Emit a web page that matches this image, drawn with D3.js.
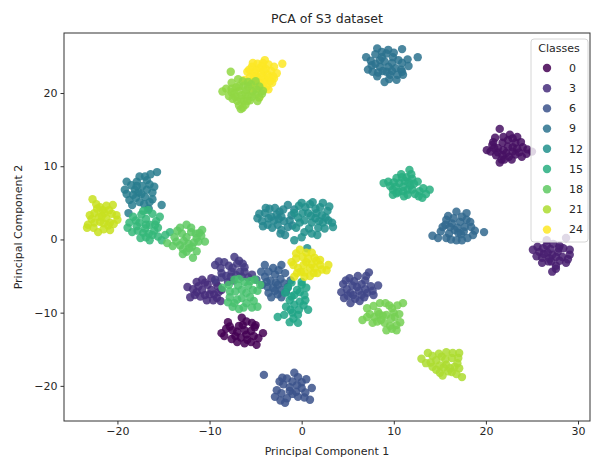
<!DOCTYPE html>
<html>
<head>
<meta charset="utf-8">
<script src="https://cdn.jsdelivr.net/npm/d3@7"></script>
<style>
body { margin: 0; background: #fff; }
text { font-family: "DejaVu Sans", sans-serif; fill: #262626; }
</style>
</head>
<body>
<div id="main"></div>
<script>
var width = 592;
var height = 460;
var plot = {l: 64, r: 590, t: 33, b: 421};

// PCA coordinates, one array per class
var class0 = [[-6.5,-10.7],[-5.4,-11.4],[-8.0,-11.3],[-8.7,-12.8],[-7.5,-12.4],[-6.2,-12.4],[-5.1,-12.0],[-4.2,-12.8],[-7.0,-14.0],[-5.9,-13.7],[-4.9,-14.4],[-6.8,-11.8],[-7.2,-13.2],[-6.0,-13.0],[-5.5,-12.5],[-6.4,-11.7],
    [-7.8,-11.9],[-7.0,-12.6],[-6.6,-13.4],[-5.2,-13.2],[-4.7,-13.5],[-8.2,-12.2],[-6.0,-11.2],[-5.0,-11.7],[-7.6,-13.6],[-6.2,-14.2],[-5.5,-14.0],[-8.4,-13.2]];
var class1 = [[21.5,15.1],[20.1,12.2],[20.7,12.9],[22.6,14.3],[23.4,14.0],[21.8,13.2],[22.9,12.6],[24.0,12.6],[25.0,12.0],[21.5,10.5],[22.8,10.9],[23.9,11.3],[21.1,11.5],[22.2,11.8],[21.3,12.5],[22.4,13.6],[23.2,13.2],[21.9,12.2],[20.5,12.0],[23.6,11.9],[22.5,11.3],[24.4,11.7],[21.9,14.0],[20.8,13.3],[22.0,10.9],
    [21.0,13.9],[22.9,13.8],[23.8,13.3],[24.5,12.3],[21.3,11.9],[22.9,12.0],[22.4,12.7],[23.4,12.4],[21.7,10.9],[23.2,11.6],[21.8,11.5],[20.9,12.5]];
var class2 = [[25.1,-1.4],[26.6,-0.8],[28.0,-0.9],[29.1,-1.4],[26.1,-2.5],[27.2,-2.1],[28.3,-2.4],[28.7,-3.2],[27.2,-4.4],[26.1,-3.2],[29.1,-2.1],[25.8,-1.7],[26.6,-0.1],[28.7,0.2],[27.0,-1.3],[27.8,-1.7],[26.8,-3.0],[27.6,-3.6],[25.6,-1.0],[28.4,-1.2],[27.3,-0.6],
    [26.2,-1.2],[26.7,-1.8],[27.6,-2.4],[28.0,-2.9],[26.3,-2.0],[27.9,-1.2],[28.9,-2.7],[27.1,-3.0],[27.6,-4.0],[25.5,-2.3],[26.9,-2.6]];
var class3 = [[-12.4,-6.5],[-12.1,-7.9],[-10.8,-5.5],[-9.8,-5.3],[-10.8,-6.9],[-9.8,-6.9],[-8.7,-6.9],[-10.3,-8.3],[-9.2,-8.0],[-11.4,-7.2],[-10.2,-6.2],[-9.3,-5.9],[-11.0,-7.8],[-9.5,-7.5],[-8.8,-8.4],[-10.5,-5.9],
    [-11.8,-6.8],[-11.2,-6.4],[-10.0,-7.5],[-9.0,-7.2],[-11.6,-7.6],[-10.5,-7.6],[-9.6,-8.3],[-11.4,-5.8],[-9.1,-6.4]];
var class4 = [[-7.3,-2.4],[-8.4,-3.1],[-9.4,-3.5],[-6.2,-3.8],[-8.7,-4.6],[-7.6,-4.4],[-6.5,-5.1],[-5.4,-4.8],[-9.4,-5.5],[-8.0,-5.8],[-7.0,-3.3],[-7.9,-3.6],[-6.7,-4.4],[-8.2,-5.0],[-7.4,-5.6],[-6.8,-2.9],
    [-8.8,-3.9],[-7.5,-3.9],[-6.2,-4.4],[-5.8,-5.2],[-8.7,-5.2],[-7.1,-4.9],[-7.7,-5.1],[-6.4,-3.3],[-9.0,-3.0]];
var class5 = [[7.3,-4.5],[5.2,-5.3],[6.1,-5.0],[6.9,-5.6],[4.5,-6.1],[5.5,-6.3],[6.5,-6.1],[7.5,-6.4],[8.3,-6.3],[4.3,-7.2],[5.3,-7.3],[6.2,-7.0],[7.1,-7.3],[4.6,-8.0],[5.8,-8.1],[6.8,-7.9],[5.3,-8.7],[7.8,-7.6],
    [5.7,-5.7],[6.9,-6.8],[6.0,-6.5],[4.9,-6.8],[5.6,-7.6],[6.5,-7.6],[7.7,-7.0],[5.0,-7.7],[7.0,-5.0],[6.3,-8.4],[4.8,-5.6]];
var class6 = [[-4.1,-18.5],[-2.1,-18.9],[-0.8,-18.2],[0.5,-19.1],[-2.7,-20.6],[-1.3,-20.2],[0.0,-20.3],[1.1,-20.3],[-2.9,-21.5],[-1.6,-21.7],[-0.4,-21.5],[0.9,-21.9],[-1.8,-22.3],[-1.0,-19.4],[-2.0,-19.8],[-0.6,-20.8],
    [-2.4,-19.4],[-1.6,-19.0],[0.0,-19.5],[-0.5,-19.9],[-2.2,-21.0],[-1.0,-21.1],[0.4,-20.9],[-1.3,-20.7],[-2.3,-22.0],[0.3,-21.6],[-0.4,-18.8]];
var class7 = [[-4.0,-3.5],[-3.1,-3.9],[-4.0,-5.1],[-2.9,-4.8],[-1.8,-4.6],[-3.7,-6.5],[-2.6,-6.2],[-1.5,-6.5],[-3.3,-7.9],[-2.2,-7.9],[-4.9,-5.5],[-3.4,-5.6],[-2.3,-5.4],[-1.2,-5.6],[-2.9,-7.0],[-1.7,-7.2],
    [-3.6,-4.4],[-2.5,-4.2],[-4.4,-4.4],[-3.8,-5.8],[-2.8,-5.9],[-1.9,-6.0],[-4.3,-6.2],[-3.1,-6.6],[-2.3,-6.9],[-2.6,-7.5],[-3.6,-7.3],[-2.2,-3.5]];
var class8 = [[14.2,0.5],[16.8,3.8],[17.9,3.6],[15.7,2.7],[15.3,1.7],[18.4,1.7],[19.8,1.0],[16.6,1.3],[17.7,1.7],[15.7,0.2],[16.8,-0.1],[18.0,0.2],[17.9,2.7],[16.3,2.2],[17.2,2.4],[16.0,0.8],[17.3,0.7],[15.9,3.2],[18.3,2.4],[16.9,1.6],
    [15.1,1.1],[15.6,2.0],[16.5,2.9],[17.4,3.1],[18.8,1.2],[17.6,1.1],[16.2,0.0],[17.4,-0.1],[14.8,0.2],[16.1,1.7],[18.6,0.6],[17.0,0.9]];
var class9 = [[7.0,24.9],[8.2,26.1],[8.7,25.6],[9.2,25.4],[10.9,26.0],[12.6,24.9],[7.2,23.2],[8.5,23.6],[9.8,24.1],[10.8,23.2],[7.7,22.9],[9.2,22.9],[9.0,21.5],[10.3,21.8],[10.9,22.9],[8.5,24.5],[9.9,24.9],[8.0,24.0],[9.4,23.6],[10.2,23.4],[8.8,23.0],[9.6,22.5],[8.2,22.3],[7.6,23.8],[10.5,24.5],[9.0,24.3],[11.0,22.5],
    [8.0,25.3],[9.4,25.9],[10.0,25.5],[11.5,24.6],[7.5,24.4],[10.9,24.1],[8.3,22.8],[9.8,23.0],[9.5,21.9],[11.6,23.7],[8.7,24.9],[10.4,22.5]];
var class10 = [[-15.7,9.2],[-19.0,7.9],[-17.9,7.9],[-16.8,8.1],[-19.2,6.8],[-18.1,6.8],[-16.8,6.8],[-16.2,6.4],[-18.7,5.4],[-17.6,5.1],[-18.4,4.7],[-15.2,4.7],[-18.8,3.6],[-17.3,7.3],[-17.0,5.8],[-18.3,6.1],[-16.5,7.5],[-17.6,8.6],[-16.2,5.5],[-17.7,6.4],
    [-18.5,7.4],[-17.0,8.6],[-16.4,8.9],[-19.0,6.2],[-17.4,6.2],[-16.0,7.2],[-18.0,5.7],[-17.1,4.8],[-16.5,5.1],[-17.9,7.3],[-16.6,4.2]];
var class11 = [[-4.8,2.9],[-4.0,3.6],[-2.9,4.3],[-1.5,4.7],[-3.3,3.1],[-2.2,3.1],[-1.1,3.3],[-3.7,2.0],[-2.6,2.0],[-1.5,1.7],[-1.8,0.6],[-3.5,4.2],[-2.4,3.8],[-4.3,2.5],[-1.9,2.5],[-3.0,2.6],[-0.8,4.1],
    [-4.6,3.5],[-3.9,4.3],[-3.6,2.9],[-2.7,3.4],[-2.0,4.1],[-1.3,2.6],[-3.2,1.6],[-2.2,1.3],[-4.2,1.8],[-2.5,2.8],[-1.0,1.9],[-2.3,0.8]];
var class12 = [[0.0,5.0],[1.2,5.1],[2.3,5.0],[-0.8,3.6],[0.7,3.6],[2.2,3.3],[-0.2,2.3],[1.1,2.3],[2.3,2.3],[3.4,1.7],[0.3,1.0],[1.7,0.6],[-0.8,-0.1],[0.6,-1.2],[1.5,4.2],[0.4,4.4],[1.8,1.6],[0.8,1.5],[-0.4,3.0],[2.8,3.9],[1.5,2.9],[2.9,2.6],
    [-0.3,4.6],[0.9,4.8],[2.0,4.4],[3.0,4.5],[0.1,3.6],[1.6,3.6],[2.6,3.0],[0.3,2.6],[1.9,2.5],[3.3,2.3],[-0.6,1.6],[1.1,0.8],[2.5,1.5],[0.0,0.3],[1.0,3.2]];
var class14 = [[-1.1,-5.9],[0.0,-5.8],[-1.8,-7.3],[-0.5,-6.9],[0.3,-7.6],[-1.3,-8.3],[-0.2,-8.5],[0.7,-9.6],[-2.6,-10.6],[-1.3,-11.3],[-0.4,-11.4],[-1.0,-10.0],[-0.8,-7.6],[0.5,-6.6],[-1.7,-9.2],[-0.3,-9.6],
    [-1.5,-6.6],[-0.2,-7.2],[0.0,-6.2],[-1.1,-7.8],[0.4,-8.3],[-0.8,-8.9],[-1.2,-9.6],[-0.4,-10.3],[-1.9,-10.3],[-0.9,-10.8],[0.2,-9.0]];
var class15 = [[8.9,7.7],[11.7,9.5],[11.4,8.5],[10.3,8.4],[12.6,7.9],[13.9,6.8],[9.9,6.8],[11.0,7.2],[12.0,6.8],[13.1,5.7],[9.9,6.1],[11.5,6.1],[10.6,7.7],[11.2,8.0],[10.5,6.5],[12.3,6.2],[11.8,7.4],[9.6,7.3],[10.8,8.9],[12.8,6.6],[11.1,5.9],[10.2,7.2],[12.0,8.3],
    [9.4,7.9],[10.9,8.5],[11.9,8.9],[12.2,7.6],[13.2,7.0],[10.3,6.3],[11.5,6.8],[12.7,5.9],[11.0,6.6],[10.0,7.8],[13.5,6.2],[11.6,7.8]];
var class16 = [[-16.7,4.0],[-15.4,3.1],[-18.3,3.1],[-18.7,2.3],[-17.6,2.3],[-16.5,2.0],[-15.6,1.6],[-18.4,1.0],[-17.2,0.9],[-16.2,0.6],[-15.2,-0.1],[-16.5,-0.1],[-14.3,1.0],[-17.0,1.5],[-17.9,1.8],[-16.0,1.2],[-17.5,0.2],[-15.8,2.5],[-16.9,2.8],
    [-17.4,3.4],[-16.2,3.5],[-18.0,2.6],[-16.9,2.0],[-15.9,2.0],[-18.9,1.6],[-17.8,1.2],[-16.6,0.8],[-15.6,0.4],[-16.9,0.3],[-14.8,0.6],[-17.2,3.9]];
var class17 = [[-8.6,-6.6],[-7.3,-5.5],[-6.2,-5.8],[-5.1,-5.5],[-7.8,-7.9],[-6.5,-6.9],[-5.3,-6.9],[-7.5,-9.2],[-6.0,-8.7],[-4.8,-9.2],[-6.5,-8.0],[-7.2,-7.1],[-5.6,-7.9],[-8.0,-8.6],[-6.8,-9.5],[-5.8,-6.3],[-4.5,-6.2],
    [-7.9,-6.2],[-6.8,-5.4],[-5.6,-5.7],[-6.9,-6.3],[-6.0,-7.3],[-4.8,-7.0],[-7.8,-7.1],[-7.0,-8.2],[-5.2,-8.4],[-6.3,-9.3],[-5.4,-9.3],[-7.3,-8.7]];
var class18 = [[-12.5,2.0],[-13.2,1.6],[-10.8,1.3],[-13.8,0.3],[-12.5,0.3],[-11.4,0.2],[-10.5,-0.3],[-14.6,-0.5],[-13.2,-0.8],[-11.9,-1.0],[-12.5,-1.7],[-11.8,-2.5],[-12.0,1.0],[-13.0,0.8],[-11.7,-0.4],[-12.8,-0.2],[-14.0,-0.9],[-12.2,-1.2],
    [-12.0,1.6],[-11.5,0.8],[-13.5,1.2],[-12.9,-1.3],[-13.6,-0.3],[-11.2,-0.3],[-11.1,0.9],[-12.3,-0.6],[-11.4,-1.6],[-12.9,-2.0],[-10.9,0.5]];
var class19 = [[7.1,-9.4],[8.5,-8.7],[9.8,-9.4],[11.0,-8.7],[6.6,-11.0],[7.9,-10.6],[9.2,-10.3],[10.1,-10.6],[7.7,-11.4],[9.0,-11.4],[10.3,-11.7],[9.2,-12.4],[10.3,-12.4],[8.3,-9.9],[9.5,-9.0],[8.6,-11.0],[10.0,-10.0],[7.4,-10.2],
    [7.8,-9.1],[9.1,-8.7],[10.4,-9.0],[7.1,-10.6],[8.8,-10.4],[9.7,-10.8],[8.2,-11.2],[9.6,-11.8],[10.6,-10.2],[8.4,-10.2],[9.8,-12.2],[10.7,-11.3]];
var class20 = [[-7.7,22.9],[-6.9,21.9],[-5.0,21.6],[-4.6,20.9],[-5.5,21.2],[-6.3,21.0],[-7.1,20.8],[-8.2,20.6],[-8.6,20.2],[-7.6,20.1],[-6.8,20.3],[-6.0,20.4],[-5.3,20.2],[-7.9,19.6],[-7.2,19.5],[-6.5,19.7],[-5.8,19.6],[-5.0,19.8],[-4.3,19.9],[-7.0,18.9],[-6.3,18.9],[-5.6,19.0],[-6.8,18.3],[-6.1,18.4],[-6.6,17.8],[-4.2,20.3],[-4.8,18.9],
    [-6.4,21.6],[-5.8,21.5],[-7.6,21.4],[-6.8,20.9],[-5.8,20.9],[-7.6,20.6],[-4.9,20.5],[-7.3,19.9],[-6.1,19.9],[-5.4,19.5],[-6.6,19.2],[-7.5,19.2],[-5.9,18.9],[-6.4,18.0],[-4.6,19.4]];
var class21 = [[13.0,-16.3],[13.7,-15.5],[15.7,-15.4],[17.1,-15.5],[14.6,-16.5],[16.3,-16.2],[14.2,-17.4],[15.7,-17.1],[16.9,-16.9],[15.0,-18.2],[16.3,-18.1],[17.4,-18.8],[15.2,-16.0],[14.6,-17.8],[15.9,-18.0],[16.6,-17.4],[15.4,-17.5],
    [14.2,-15.9],[14.9,-15.6],[16.4,-15.5],[15.6,-16.4],[17.0,-16.2],[14.0,-16.8],[15.0,-17.2],[16.1,-17.6],[17.1,-17.6],[15.3,-18.6],[16.8,-18.4],[13.5,-16.9]];
var class22 = [[-22.7,5.5],[-21.9,4.4],[-20.5,4.7],[-22.5,3.6],[-21.4,3.6],[-20.1,3.3],[-23.2,2.0],[-21.9,2.4],[-20.8,2.3],[-20.0,2.7],[-23.3,1.6],[-22.1,1.0],[-20.8,1.3],[-22.0,3.1],[-21.2,2.9],[-22.8,2.8],[-21.6,4.0],[-21.0,1.9],
    [-22.3,4.8],[-21.2,4.6],[-20.9,4.0],[-22.2,4.2],[-23.0,3.3],[-22.5,2.3],[-21.5,2.2],[-20.4,2.1],[-21.5,1.4],[-22.6,1.6],[-20.6,3.5],[-21.7,3.2]];
var class23 = [[-0.2,-1.4],[-1.1,-3.1],[0.1,-2.4],[1.4,-2.5],[2.7,-4.2],[-0.4,-3.9],[0.9,-3.9],[0.3,-5.1],[1.7,-4.6],[-0.8,-5.1],[0.5,-3.1],[1.1,-3.4],[-0.1,-4.4],[2.0,-3.5],[0.9,-5.0],[1.6,-2.9],[-0.6,-2.6],
    [0.5,-1.8],[-0.6,-1.9],[0.7,-2.6],[2.0,-2.8],[2.2,-4.1],[-0.9,-3.5],[0.2,-3.5],[1.4,-3.9],[1.3,-4.6],[-0.5,-4.6],[0.3,-4.5],[2.9,-3.5],[1.1,-1.8]];
var class24 = [[-4.8,24.0],[-4.2,24.1],[-3.6,23.9],[-5.4,23.6],[-4.6,23.4],[-3.9,23.3],[-3.3,23.0],[-5.9,22.9],[-5.1,22.8],[-4.4,22.7],[-3.7,22.5],[-3.1,22.3],[-5.6,22.2],[-4.8,22.1],[-4.0,21.9],[-3.4,21.6],[-6.2,21.8],[-5.3,21.5],[-4.5,21.3],[-3.8,20.9],[-4.2,20.4],[-4.6,19.4],[-2.1,24.0],[-3.0,22.0],[-5.0,23.1],[-4.3,23.7],
    [-5.3,24.1],[-4.0,24.5],[-3.0,23.6],[-5.7,23.2],[-4.1,23.0],[-2.7,22.7],[-5.2,22.3],[-4.3,22.3],[-3.6,22.1],[-3.2,21.4],[-4.9,21.7],[-4.1,21.4],[-4.7,20.7],[-3.6,20.5],[-5.4,20.6]];

// drawing order follows the picture: class 20 lies on top of class 24
var classLabels = [0, 1, 2, 3, 4, 5, 6, 7, 8, 9, 10, 11, 12, 14, 15, 16, 17, 18, 19, 24, 20, 21, 22, 23];
var classPoints = [class0, class1, class2, class3, class4, class5, class6, class7, class8, class9, class10, class11, class12, class14, class15, class16, class17, class18, class19, class24, class20, class21, class22, class23];
var legendValues = [0, 3, 6, 9, 12, 15, 18, 21, 24];
var xTicks = [-20, -10, 0, 10, 20, 30];
var yTicks = [-20, -10, 0, 10, 20];

var points = [];
classLabels.forEach(function(c, i) {
    classPoints[i].forEach(function(p) {
        points.push({pc1: p[0], pc2: p[1], label: c});
    });
});

var svg = d3.select('#main').append('svg')
    .attr('width', width)
    .attr('height', height);

var xScale = d3.scaleLinear().domain([-25.8, 31.3]).range([plot.l, plot.r]);
var yScale = d3.scaleLinear().domain([-24.8, 28.2]).range([plot.b, plot.t]);
var color = d3.scaleSequential(d3.interpolateViridis).domain([0, 24]);

svg.selectAll('.dot')
    .data(points)
    .enter()
    .append('circle')
    .attr('class', 'dot')
    .attr('cx', function(d) { return xScale(d.pc1); })
    .attr('cy', function(d) { return yScale(d.pc2); })
    .attr('r', 4.2)
    .style('fill', function(d) { return color(d.label); })
    .style('fill-opacity', 0.85);

// frame
svg.append('rect')
    .attr('x', plot.l)
    .attr('y', plot.t)
    .attr('width', plot.r - plot.l)
    .attr('height', plot.b - plot.t)
    .style('fill', 'none')
    .style('stroke', '#333')
    .style('stroke-width', 1);

var xAxis = d3.axisBottom(xScale).tickValues(xTicks).tickSize(3.5).tickSizeOuter(0).tickPadding(3);
var yAxis = d3.axisLeft(yScale).tickValues(yTicks).tickSize(3.5).tickSizeOuter(0).tickPadding(3);

var gx = svg.append('g')
    .attr('transform', `translate(0, ${plot.b})`)
    .call(xAxis);
var gy = svg.append('g')
    .attr('transform', `translate(${plot.l}, 0)`)
    .call(yAxis);

[gx, gy].forEach(function(g) {
    g.select('.domain').remove();
    g.selectAll('line').style('stroke', '#333');
    g.selectAll('text').style('font-size', '11px').style('fill', '#262626')
        .style('font-family', '"DejaVu Sans", sans-serif');
});

svg.append('text')
    .attr('x', (plot.l + plot.r) / 2)
    .attr('y', 23)
    .attr('text-anchor', 'middle')
    .style('font-size', '12.5px')
    .text('PCA of S3 dataset');

svg.append('text')
    .attr('x', (plot.l + plot.r) / 2)
    .attr('y', 455)
    .attr('text-anchor', 'middle')
    .style('font-size', '11px')
    .text('Principal Component 1');

svg.append('text')
    .attr('transform', `translate(22, ${(plot.t + plot.b) / 2}) rotate(-90)`)
    .attr('text-anchor', 'middle')
    .style('font-size', '11px')
    .text('Principal Component 2');

// legend
var legend = svg.append('g').attr('transform', 'translate(531, 39)');
legend.append('rect')
    .attr('width', 57)
    .attr('height', 203)
    .attr('rx', 3)
    .style('fill', '#fff')
    .style('fill-opacity', 0.8)
    .style('stroke', '#d6d6d6');

legend.append('text')
    .attr('x', 28)
    .attr('y', 13)
    .attr('text-anchor', 'middle')
    .style('font-size', '11px')
    .text('Classes');

var entry = legend.selectAll('.entry')
    .data(legendValues)
    .enter()
    .append('g')
    .attr('class', 'entry')
    .attr('transform', function(d, i) { return `translate(0, ${29 + i * 20.2})`; });

entry.append('circle')
    .attr('cx', 16)
    .attr('r', 4.2)
    .style('fill', function(d) { return color(d); })
    .style('fill-opacity', 0.85);

entry.append('text')
    .attr('x', 38)
    .attr('dy', '0.35em')
    .style('font-size', '11px')
    .text(function(d) { return d; });
</script>
</body>
</html>
